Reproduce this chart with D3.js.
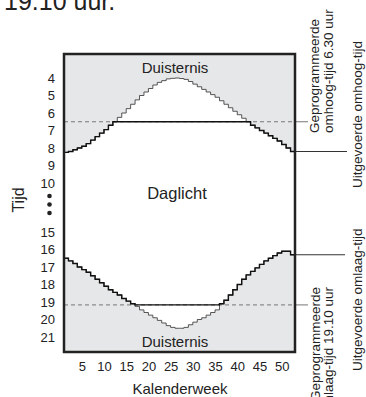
<!DOCTYPE html>
<html>
<head>
<meta charset="utf-8">
<script src="https://cdn.jsdelivr.net/npm/d3@7"></script>
<style>
  body { margin: 0; background: #fff; }
  svg { display: block; font-family: "Liberation Sans", Arial, Helvetica, sans-serif; }
</style>
</head>
<body>
<svg id="chart"></svg>
<script>
// weekly times (hours, decimal)
var weeks = d3.range(1, 53)
var sunrise = [8.25, 8.2, 8.1, 8.0, 7.9, 7.75, 7.55, 7.35, 7.15, 6.95,
               6.7, 6.5, 6.25, 6.0, 5.75, 5.5, 5.25, 5.0, 4.8, 4.6,
               4.4, 4.25, 4.15, 4.05, 4.02, 4.0, 4.03, 4.08, 4.2, 4.35,
               4.5, 4.65, 4.8, 4.95, 5.1, 5.3, 5.5, 5.7, 5.9, 6.1,
               6.3, 6.5, 6.7, 6.85, 7.0, 7.15, 7.3, 7.45, 7.6, 7.8,
               8.0, 8.2]
var sunset = [16.5, 16.65, 16.8, 17.0, 17.15, 17.3, 17.5, 17.7, 17.9, 18.1,
              18.3, 18.45, 18.6, 18.8, 18.95, 19.1, 19.25, 19.45, 19.6, 19.75,
              19.9, 20.05, 20.2, 20.35, 20.45, 20.5, 20.5, 20.45, 20.3, 20.15,
              20.0, 19.9, 19.75, 19.6, 19.45, 19.1, 18.9, 18.6, 18.3, 18.0,
              17.7, 17.45, 17.25, 17.05, 16.85, 16.65, 16.5, 16.35, 16.2, 16.1,
              16.1, 16.3]
var progUp = 6.5          // 6.30 uur
var progDown = 19 + 10/60 // 19.10 uur
var yTicks = [4, 5, 6, 7, 8, 9, 10, 15, 16, 17, 18, 19, 20, 21]
var xTicks = [5, 10, 15, 20, 25, 30, 35, 40, 45, 50]

var width = 366, height = 397
var box = {left: 64, top: 54, right: 295, bottom: 352}

var svg = d3.select("#chart").attr("width", width).attr("height", height)

var x = d3.scaleLinear().domain([1, 53]).range([box.left, box.right])
// broken time axis: 10 -> 15 squeezed
var y = d3.scaleLinear().domain([4, 10, 15, 21]).range([78, 183, 232, 337])

// step data, last week held to the right edge
function steps(vals) {
  var pts = weeks.map(function(w, i) { return {w: w, v: vals[i]} })
  pts.push({w: 53, v: vals[vals.length - 1]})
  return pts
}
var riseData = steps(sunrise)
var setData = steps(sunset)
var upData = steps(sunrise.map(function(v) { return Math.max(v, progUp) }))
var downData = steps(sunset.map(function(v) { return Math.min(v, progDown) }))

var line = d3.line()
  .x(function(d) { return x(d.w) })
  .y(function(d) { return y(d.v) })
  .curve(d3.curveStepAfter)

// darkness areas
svg.append("path")
  .attr("d", d3.area().x(function(d) { return x(d.w) }).y0(box.top).y1(function(d) { return y(d.v) }).curve(d3.curveStepAfter)(riseData))
  .attr("fill", "#e6e7e8")
svg.append("path")
  .attr("d", d3.area().x(function(d) { return x(d.w) }).y0(box.bottom).y1(function(d) { return y(d.v) }).curve(d3.curveStepAfter)(setData))
  .attr("fill", "#e6e7e8")

// programmed times (dashed)
;[progUp, progDown].forEach(function(t) {
  svg.append("line")
    .attr("x1", box.left).attr("x2", box.right)
    .attr("y1", y(t)).attr("y2", y(t))
    .attr("stroke", "#777").attr("stroke-width", 1).attr("stroke-dasharray", "4,3")
  svg.append("line")
    .attr("x1", box.right).attr("x2", 308)
    .attr("y1", y(t)).attr("y2", y(t))
    .attr("stroke", "#777").attr("stroke-width", 1)
})

// sun curves (thin) and executed times (thicker)
svg.append("path").attr("d", line(riseData)).attr("fill", "none").attr("stroke", "#444").attr("stroke-width", 0.9)
svg.append("path").attr("d", line(setData)).attr("fill", "none").attr("stroke", "#444").attr("stroke-width", 0.9)
svg.append("path").attr("d", line(upData)).attr("fill", "none").attr("stroke", "#111").attr("stroke-width", 1.4)
svg.append("path").attr("d", line(downData)).attr("fill", "none").attr("stroke", "#111").attr("stroke-width", 1.4)

// executed leaders
svg.append("line").attr("x1", box.right).attr("x2", 347)
  .attr("y1", y(sunrise[51])).attr("y2", y(sunrise[51])).attr("stroke", "#333")
svg.append("line").attr("x1", box.right).attr("x2", 345)
  .attr("y1", y(sunset[51])).attr("y2", y(sunset[51])).attr("stroke", "#333")

// frame
svg.append("rect")
  .attr("x", box.left).attr("y", box.top)
  .attr("width", box.right - box.left).attr("height", box.bottom - box.top)
  .attr("fill", "none").attr("stroke", "#222").attr("stroke-width", 2.5)

// axes
var yAxis = svg.append("g")
  .attr("transform", "translate(58,0)")
  .call(d3.axisLeft(y).tickValues(yTicks).tickSize(0).tickPadding(3))
yAxis.select(".domain").remove()
yAxis.selectAll("text").attr("font-size", 13).attr("fill", "#222").attr("font-family", null)

var xAxis = svg.append("g")
  .attr("transform", "translate(0,362)")
  .call(d3.axisBottom(x).tickValues(xTicks).tickSize(0).tickPadding(0))
xAxis.select(".domain").remove()
xAxis.selectAll("text").attr("font-size", 13).attr("fill", "#222").attr("font-family", null)

// dots for the axis break
svg.selectAll("circle.brk")
  .data([196, 204.5, 213])
  .enter().append("circle")
  .attr("cx", 49.5).attr("cy", function(d) { return d }).attr("r", 2.3).attr("fill", "#222")

// labels
svg.append("text").attr("x", 4).attr("y", 10).attr("font-size", 25).attr("fill", "#222").text("19.10 uur.")
svg.append("text").attr("x", 175).attr("y", 73).attr("text-anchor", "middle").attr("font-size", 15).attr("fill", "#222").text("Duisternis")
svg.append("text").attr("x", 177).attr("y", 199).attr("text-anchor", "middle").attr("font-size", 16.5).attr("fill", "#222").text("Daglicht")
svg.append("text").attr("x", 175).attr("y", 347).attr("text-anchor", "middle").attr("font-size", 15).attr("fill", "#222").text("Duisternis")
svg.append("text").attr("x", 180).attr("y", 394).attr("text-anchor", "middle").attr("font-size", 15).attr("fill", "#222").text("Kalenderweek")
svg.append("text").attr("transform", "translate(24,200) rotate(-90)").attr("text-anchor", "middle").attr("font-size", 16).attr("fill", "#222").text("Tijd")

function vtext(px, py, anchor, str) {
  svg.append("text")
    .attr("transform", "translate(" + px + "," + py + ") rotate(-90)")
    .attr("text-anchor", anchor).attr("font-size", 13.5).attr("fill", "#222")
    .text(str)
}
vtext(318.5, 133, "start", "Geprogrammeerde")
vtext(333, 133, "start", "omhoog-tijd 6.30 uur")
vtext(362, 188, "start", "Uitgevoerde omhoog-tijd")
vtext(319.5, 287, "end", "Geprogrammeerde")
vtext(333, 287, "end", "omlaag-tijd 19.10 uur")
vtext(362, 371, "start", "Uitgevoerde omlaag-tijd")
</script>
</body>
</html>
